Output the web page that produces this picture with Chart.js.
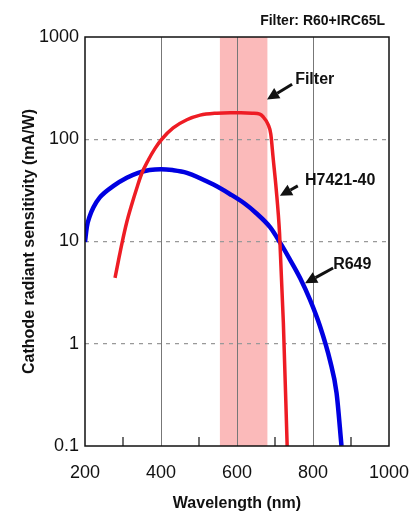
<!DOCTYPE html>
<html>
<head>
<meta charset="utf-8">
<script src="https://cdn.jsdelivr.net/npm/chart.js@4.4.0/dist/chart.umd.min.js"></script>
<style>
    html, body { margin: 0; padding: 0; background: #fff; }
    #wrap { width: 411px; height: 515px; }
</style>
</head>
<body>
<div id="wrap"><canvas id="myChart" width="411" height="515"></canvas></div>
<script>
// H7421-40 (red)
const redWavelength = [279, 288, 297, 310, 323, 336, 349, 367, 384, 402, 432, 468, 503, 547, 582, 610, 640, 660, 668, 682, 689, 695, 703, 712, 722, 732]
const redSensitivity = [4.4, 6.5, 9.5, 15.5, 23, 33, 46, 63, 81, 100, 129, 155, 172, 180, 182, 182, 180, 176, 167, 139, 112, 66, 33, 12, 1.6, 0.1]

// R649 (blue)
const blueWavelength = [200, 205, 212, 222, 239, 275, 310, 340, 370, 400, 430, 468, 538, 582, 620, 650, 687, 713, 739, 766, 792, 818, 845, 862, 875]
const blueSensitivity = [9.9, 14, 17.5, 21.5, 27, 35, 42, 47, 50, 51, 50, 47, 36, 29, 23.5, 19, 13.8, 9.8, 6.7, 4.4, 2.7, 1.5, 0.68, 0.33, 0.1]

const yTicks = [0.1, 1, 10, 100, 1000]
const xLabels = [200, 400, 600, 800, 1000]
const xGrid = [400, 600, 800]
const xMinor = [300, 500, 700, 900]

// filter band (nm)
const filterBand = [555, 680]

// callouts: text position and arrow tail/head, in data units
const callouts = [
    { text: 'Filter', tx: 753, ty: 380, from: [745, 345], to: [679, 245] },
    { text: 'H7421-40', tx: 779, ty: 39, from: [760, 35], to: [713, 28] },
    { text: 'R649', tx: 853, ty: 5.9, from: [853, 5.5], to: [779, 3.9] }
]

const toPoints = (xs, ys) => xs.map((x, i) => ({ x: x, y: ys[i] }))

const chartDecor = {
    id: 'chartDecor',
    beforeDraw(chart) {
        const { ctx, chartArea, scales } = chart
        const x1 = scales.x.getPixelForValue(filterBand[0])
        const x2 = scales.x.getPixelForValue(filterBand[1])
        ctx.save()
        ctx.fillStyle = 'rgb(251,186,186)'
        ctx.fillRect(x1, chartArea.top, x2 - x1, chartArea.bottom - chartArea.top)
        ctx.restore()
    },
    afterDatasetsDraw(chart) {
        const { ctx, chartArea, scales } = chart
        ctx.save()
        // box
        ctx.strokeStyle = '#111'
        ctx.lineWidth = 1.5
        ctx.strokeRect(chartArea.left, chartArea.top, chartArea.right - chartArea.left, chartArea.bottom - chartArea.top)
        // minor ticks
        ctx.lineWidth = 1.2
        xMinor.forEach((v) => {
            const px = scales.x.getPixelForValue(v)
            ctx.beginPath()
            ctx.moveTo(px, chartArea.bottom)
            ctx.lineTo(px, chartArea.bottom - 9)
            ctx.stroke()
        })
        // callouts
        ctx.fillStyle = '#111'
        ctx.font = 'bold 16px "Liberation Sans", Arial, sans-serif'
        ctx.textBaseline = 'middle'
        ctx.textAlign = 'left'
        callouts.forEach((c) => {
            ctx.fillText(c.text, scales.x.getPixelForValue(c.tx), scales.y.getPixelForValue(c.ty))
            const fx = scales.x.getPixelForValue(c.from[0])
            const fy = scales.y.getPixelForValue(c.from[1])
            const hx = scales.x.getPixelForValue(c.to[0])
            const hy = scales.y.getPixelForValue(c.to[1])
            const ang = Math.atan2(hy - fy, hx - fx)
            const len = 12
            const bx = hx - len * Math.cos(ang)
            const by = hy - len * Math.sin(ang)
            ctx.lineWidth = 3
            ctx.beginPath()
            ctx.moveTo(fx, fy)
            ctx.lineTo(bx, by)
            ctx.stroke()
            ctx.beginPath()
            ctx.moveTo(hx, hy)
            ctx.lineTo(bx + 6 * Math.sin(ang), by - 6 * Math.cos(ang))
            ctx.lineTo(bx - 6 * Math.sin(ang), by + 6 * Math.cos(ang))
            ctx.closePath()
            ctx.fill()
        })
        // filter note
        ctx.font = 'bold 14px "Liberation Sans", Arial, sans-serif'
        ctx.textAlign = 'right'
        ctx.fillText('Filter: R60+IRC65L', chartArea.right - 4, 21)
        ctx.restore()
    }
}

var ctx = document.getElementById('myChart').getContext('2d')
var chart = new Chart(ctx, {
    type: 'line',
    data: {
        datasets: [{
            label: 'H7421-40',
            data: toPoints(redWavelength, redSensitivity),
            borderColor: 'rgb(238,28,36)',
            borderWidth: 3.5,
            pointRadius: 0,
            cubicInterpolationMode: 'monotone'
        },
        {
            label: 'R649',
            data: toPoints(blueWavelength, blueSensitivity),
            borderColor: 'rgb(0,0,225)',
            borderWidth: 4.5,
            pointRadius: 0,
            cubicInterpolationMode: 'monotone'
        }]
    },
    options: {
        responsive: false,
        animation: false,
        layout: { padding: { top: 37, right: 22, bottom: 0, left: 0 } },
        plugins: { legend: { display: false }, tooltip: { enabled: false } },
        scales: {
            x: {
                type: 'linear',
                min: 200,
                max: 1000,
                afterBuildTicks: (scale) => { scale.ticks = xLabels.concat(xMinor).map((v) => ({ value: v })) },
                afterFit: (scale) => { scale.height = 69 },
                ticks: {
                    autoSkip: false,
                    maxRotation: 0,
                    padding: 16,
                    color: '#111',
                    font: { size: 18, family: '"Liberation Sans", Arial, sans-serif' },
                    callback: (v) => xLabels.includes(v) ? v : ''
                },
                grid: {
                    drawTicks: false,
                    color: (c) => xGrid.includes(c.tick && c.tick.value) ? '#777' : 'rgba(0,0,0,0)',
                    lineWidth: 1
                },
                border: { display: false },
                title: {
                    display: true,
                    text: 'Wavelength (nm)',
                    color: '#111',
                    font: { size: 16, weight: 'bold', family: '"Liberation Sans", Arial, sans-serif' },
                    padding: { top: 0, bottom: 2 }
                }
            },
            y: {
                type: 'logarithmic',
                min: 0.1,
                max: 1000,
                afterBuildTicks: (scale) => { scale.ticks = yTicks.map((v) => ({ value: v })) },
                afterFit: (scale) => { scale.width = 85 },
                ticks: {
                    padding: 6,
                    color: '#111',
                    font: { size: 18, family: '"Liberation Sans", Arial, sans-serif' },
                    callback: (v) => String(v)
                },
                grid: {
                    drawTicks: false,
                    color: (c) => [1, 10, 100].includes(c.tick && c.tick.value) ? '#999' : 'rgba(0,0,0,0)',
                    lineWidth: 1.2
                },
                border: { display: false, dash: [4, 5] },
                title: {
                    display: true,
                    text: 'Cathode radiant sensitivity (mA/W)',
                    color: '#111',
                    font: { size: 16, weight: 'bold', family: '"Liberation Sans", Arial, sans-serif' },
                    padding: { top: 20, bottom: 0 }
                }
            }
        }
    },
    plugins: [chartDecor]
})
</script>
</body>
</html>
